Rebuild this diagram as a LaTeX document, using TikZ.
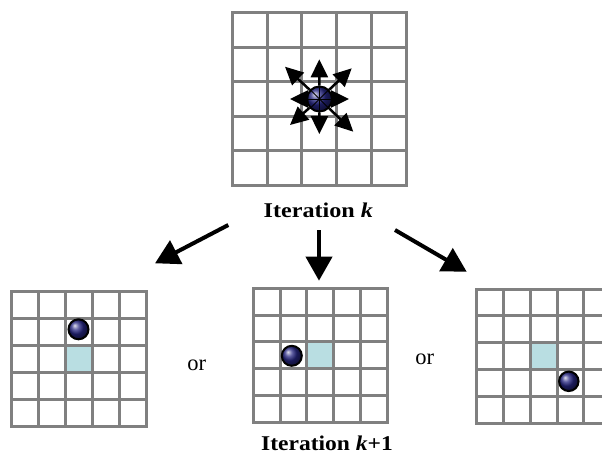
\documentclass[tikz,border=0pt]{standalone}
\usepackage{fontspec}
\setmainfont{Liberation Serif}
\usepackage{graphicx}
\usetikzlibrary{arrows.meta}
\definecolor{gridgray}{RGB}{128,128,128}
\definecolor{cellcyan}{RGB}{185,222,226}
\definecolor{ballblue}{RGB}{38,38,130}
\newcommand{\drawgrid}[4]{% name, x, y, cell
  \node[gridbox=5*#4 pt] (#1) at (#2,#3) {};
  \fill[cellcyan] (#2+2*#4,#3+2*#4) rectangle ++(#4,#4);
  \foreach \i in {0,...,5} {
    \draw[gridline] (#2+\i*#4,#3) -- (#2+\i*#4,#3+5*#4);
    \draw[gridline] (#2,#3+\i*#4) -- (#2+5*#4,#3+\i*#4);
  }
}
\begin{document}
\begin{tikzpicture}[x=1pt,y=-1pt,
  gridline/.style={draw=gridgray,line width=3pt,line cap=rect},
  gridbox/.style={draw=none,minimum size=#1,inner sep=0pt,outer sep=0pt,anchor=north west},
  ballnode/.style={circle,draw=black,line width=2pt,shading=ball,ball color=ballblue,inner sep=0pt,minimum size=#1},
  smallarrow/.style={-{Triangle[length=18pt,width=17pt]},line width=2.5pt},
  bigarrow/.style={-{Triangle[length=24pt,width=26pt]},line width=4pt},
  itlabel/.style={font=\fontsize{21}{24}\selectfont\bfseries,inner sep=0pt},
  ortext/.style={font=\fontsize{22.5}{26}\selectfont,inner sep=0pt}]
\useasboundingbox (0,0) rectangle (602,455);
\clip (0,0) rectangle (602,455);
\fill[white] (0,0) rectangle (602,455);

% top grid (no cyan cell)
\node[gridbox=5*34.7 pt] (gtop) at (232.5,12.5) {};
\foreach \i in {0,...,5} {
  \draw[gridline] (232.5+\i*34.7,12.5) -- (232.5+\i*34.7,12.5+5*34.5);
  \draw[gridline] (232.5,12.5+\i*34.5) -- (232.5+5*34.7,12.5+\i*34.5);
}

% bottom grids
\drawgrid{gl}{11.7}{291.7}{27}
\drawgrid{gm}{253.3}{288.3}{26.8}
\drawgrid{gr}{476.7}{289}{26.8}

% top ball with arrows
\node[ballnode=25pt] (b0) at (319.5,99) {};
\foreach \a in {0,45,...,315} \draw[line width=0.8pt] (b0.center) -- (b0.\a);
\coordinate (tN) at (319.3,59.3);
\coordinate (tS) at (319.3,134);
\coordinate (tW) at (290,99);
\coordinate (tE) at (349,99);
\coordinate (tNW) at (285,66.7);
\coordinate (tNE) at (351.7,68.3);
\coordinate (tSW) at (290,125);
\coordinate (tSE) at (353.3,131.7);
\foreach \t in {tN,tS,tW,tE,tNW,tNE,tSW,tSE} \draw[smallarrow] (b0) -- (\t);

% bottom balls
\node[ballnode=20pt] (bl) at (78.5,329.3) {};
\node[ballnode=20pt] (bm) at (291.8,355.8) {};
\node[ballnode=19.5pt] (br) at (568.8,381.3) {};

% labels
\node[itlabel,anchor=base] (itk) at (318.3,217.3) {\scalebox{1.15}[1]{Iteration \textit{k}}};
\node[itlabel,anchor=base] (itk1) at (327,450.5) {\scalebox{1.12}[1]{Iteration \textit{k}+1}};
\node[ortext,anchor=base] (or1) at (196.7,370) {or};
\node[ortext,anchor=base] (or2) at (424.7,364) {or};

% big arrows
\coordinate (aLs) at (228.3,225);
\coordinate (aLt) at (155,263.3);
\coordinate (aMs) at (319,230);
\coordinate (aMt) at (319,280.7);
\coordinate (aRs) at (395,230);
\coordinate (aRt) at (466.7,271.7);
\draw[bigarrow] (aLs) -- (aLt);
\draw[bigarrow] (aMs) -- (aMt);
\draw[bigarrow] (aRs) -- (aRt);
\end{tikzpicture}
\end{document}
